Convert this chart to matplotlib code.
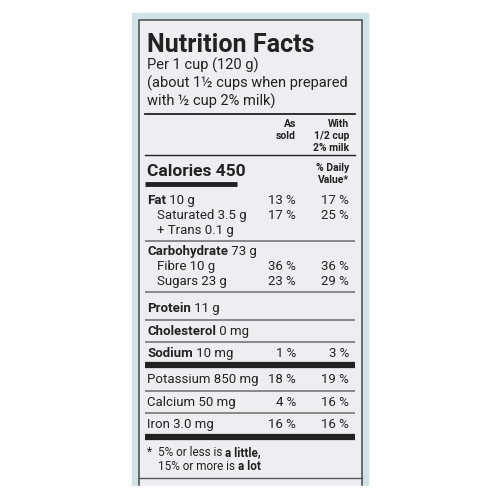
import matplotlib
matplotlib.use("Agg")
import matplotlib.pyplot as plt

FAM = ['Liberation Sans Narrow', 'Roboto', 'DejaVu Sans']
plt.rcParams['font.family'] = FAM

title = "Nutrition Facts"
serving = ["Per 1 cup (120 g)", "(about 1½ cups when prepared", "with ½ cup 2% milk)"]
calories = "Calories 450"
rows = [
    ("Fat", " 10 g", 0, "13 %", "17 %"),
    ("", "Saturated 3.5 g", 1, "17 %", "25 %"),
    ("", "+ Trans 0.1 g", 1, "", ""),
    ("Carbohydrate", " 73 g", 0, "", ""),
    ("", "Fibre 10 g", 1, "36 %", "36 %"),
    ("", "Sugars 23 g", 1, "23 %", "29 %"),
    ("Protein", " 11 g", 0, "", ""),
    ("Cholesterol", " 0 mg", 0, "", ""),
    ("Sodium", " 10 mg", 0, "1 %", "3 %"),
    ("", "Potassium 850 mg", 0, "18 %", "19 %"),
    ("", "Calcium 50 mg", 0, "4 %", "16 %"),
    ("", "Iron 3.0 mg", 0, "16 %", "16 %"),
]
row_y = [200, 215, 230, 251, 266, 281, 308, 331, 353, 379, 402, 424]
seps = [(241, 1.2), (292, 1.2), (320, 1.2), (342, 1.2), (365, 4.5), (391, 1.2), (413, 1.2), (437, 4.5)]

fig = plt.figure(figsize=(5, 5), dpi=100)
ax = fig.add_axes([0, 0, 1, 1])
ax.set_xlim(0, 500); ax.set_ylim(500, 0); ax.axis('off')
fig.patch.set_facecolor('white')
ax.add_patch(plt.Rectangle((132, 13), 236, 473, color='#cfe3e8', zorder=0))
ax.add_patch(plt.Rectangle((139, 20), 223, 470, facecolor='#eeeef2', edgecolor='#555555', lw=1.2, zorder=1))
ax.add_patch(plt.Rectangle((132, 486), 236, 14, color='white', zorder=2))
ax.plot([139, 362], [478, 478], color='#555555', lw=1.0, zorder=3)

L, C1, C2 = 147, 296, 349
K = '#222222'


def mixed(x, y, parts, size):
    """Draw consecutive (text, bold) parts on one baseline."""
    for s, b in parts:
        t = ax.text(x, y, s, fontsize=size, weight='bold' if b else 'normal', color=K, va='baseline')
        fig.canvas.draw()
        bb = t.get_window_extent()
        x = bb.x1  # axes units equal pixels horizontally


ax.text(L, 52, title, fontsize=18, weight='bold', color=K, va='baseline')
for i, s in enumerate(serving):
    ax.text(L, 70 + i * 18, s, fontsize=10.5, color=K, va='baseline')
ax.plot([145, 355], [114, 114], color=K, lw=1.3)
ax.text(C1, 127, "As", fontsize=7.5, weight='bold', ha='right', color=K)
ax.text(C1, 139, "sold", fontsize=7.5, weight='bold', ha='right', color=K)
for i, s in enumerate(["With", "1/2 cup", "2% milk"]):
    ax.text(C2, 127 + 12 * i, s, fontsize=7.5, weight='bold', ha='right', color=K)
ax.plot([145, 355], [155, 155], color=K, lw=1.0)
ax.text(L, 176, calories, fontsize=12.5, weight='bold', color=K, va='baseline')
ax.text(C2, 171, "% Daily", fontsize=7.5, weight='bold', ha='right', color=K)
ax.text(C2, 183, "Value*", fontsize=7.5, weight='bold', ha='right', color=K)
ax.plot([145, 237], [184, 184], color=K, lw=3.5, solid_capstyle='butt')

for (b, n, ind, a, w), y in zip(rows, row_y):
    x = L + 10 * ind
    yb = y + 4
    if b:
        mixed(x, yb, [(b, True), (n, False)], 9.5)
    else:
        ax.text(x, yb, n, fontsize=9.5, color=K, va='baseline')
    ax.text(C1, yb, a, fontsize=9.5, ha='right', color=K, va='baseline')
    ax.text(C2, yb, w, fontsize=9.5, ha='right', color=K, va='baseline')

for y, t in seps:
    ax.plot([145, 355], [y, y], color=K if t > 2 else '#777777', lw=t, solid_capstyle='butt')

ax.text(L, 456, "*", fontsize=8.5, color=K, va='baseline')
mixed(158, 456, [("5% or less is ", False), ("a little,", True)], 8.5)
mixed(158, 470, [("15% or more is ", False), ("a lot", True)], 8.5)

fig.savefig("out.png", dpi=100)
